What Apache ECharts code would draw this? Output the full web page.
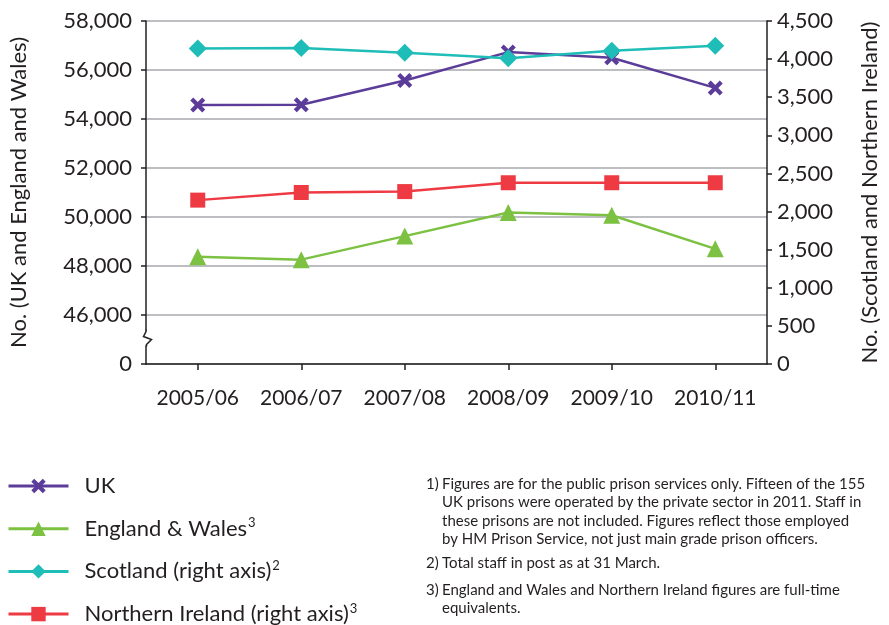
<!DOCTYPE html>
<html>
<head>
<meta charset="utf-8">
<script src="https://cdn.jsdelivr.net/npm/echarts@6/dist/echarts.min.js"></script>
<style>html,body{margin:0;padding:0;background:#fff;}#c{width:889px;height:625px;}</style>
</head>
<body>
<div id="c"></div>
<script>
const categories = ['2005/06','2006/07','2007/08','2008/09','2009/10','2010/11'];
const ukValues = [54570, 54580, 55570, 56730, 56500, 55270];
const ewValues = [48380, 48260, 49220, 50180, 50070, 48700];
const scotlandValues = [4140, 4145, 4085, 4010, 4110, 4175];
const niValues = [2150, 2250, 2262, 2378, 2378, 2378];
const leftTicks = {min: 44000, max: 58000, interval: 2000};
const rightTicks = {min: 0, max: 4500, interval: 500};
const seriesNames = ['UK', 'England & Wales', 'Scotland (right axis)', 'Northern Ireland (right axis)'];
const seriesSup = ['', '3', '2', '3'];
const footnotes = [
  ['1)', 'Figures are for the public prison services only. Fifteen of the 155\nUK prisons were operated by the private sector in 2011. Staff in\nthese prisons are not included. Figures reflect those employed\nby HM Prison Service, not just main grade prison officers.'],
  ['2)', 'Total staff in post as at 31 March.'],
  ['3)', 'England and Wales and Northern Ireland figures are full-time\nequivalents.']
];

const FONT = 'Lato, "Open Sans", sans-serif';
const INK = '#231f20';
const crossPath = 'path://M2,0 L5,3 L8,0 L10,2 L7,5 L10,8 L8,10 L5,7 L2,10 L0,8 L3,5 L0,2 Z';
const fmt = v => v.toLocaleString('en-US');

const chart = echarts.init(document.getElementById('c'), null, {renderer: 'canvas'});

const axisCommon = {
  axisLine: {show: true, lineStyle: {color: INK, width: 1.5}},
  axisTick: {show: true, length: 5, lineStyle: {color: INK, width: 1.5}},
  axisLabel: {color: INK, fontFamily: FONT, fontSize: 22},
  nameTextStyle: {color: INK, fontFamily: FONT, fontSize: 22},
};

const option = {
  animation: false,
  backgroundColor: '#fff',
  grid: {left: 146, right: 117, top: 21, bottom: 261, containLabel: false},
  legend: {
    orient: 'vertical', left: 7, top: 474, height: 200, padding: 0,
    itemWidth: 60, itemHeight: 18, itemGap: 18.7,
    lineStyle: {width: 3},
    data: seriesNames,
    formatter: name => {
      const i = seriesNames.indexOf(name);
      return seriesSup[i] ? name + '{sup|' + seriesSup[i] + '}' : name;
    },
    textStyle: {
      color: INK, fontFamily: FONT, fontSize: 22, lineHeight: 24, padding: [0,0,0,11],
      rich: {sup: {fontSize: 13, fontFamily: FONT, color: INK, verticalAlign: 'top', lineHeight: 16, padding: [0,0,0,1]}}
    }
  },
  xAxis: {
    type: 'category', data: categories, boundaryGap: true,
    axisLine: {show: true, lineStyle: {color: INK, width: 1.5}},
    axisTick: {show: true, alignWithLabel: true, length: 6, lineStyle: {color: INK, width: 1.5}},
    axisLabel: {color: INK, fontFamily: FONT, fontSize: 21, margin: 24, interval: 0, hideOverlap: false},
  },
  yAxis: [
    Object.assign({}, axisCommon, {
      type: 'value', position: 'left',
      min: leftTicks.min, max: leftTicks.max, interval: leftTicks.interval,
      name: 'No. (UK and England and Wales)', nameLocation: 'middle', nameGap: 116, nameRotate: 90,
      axisLabel: Object.assign({}, axisCommon.axisLabel, {margin: 14, formatter: v => v === leftTicks.min ? '0' : fmt(v)}),
      splitLine: {show: true, lineStyle: {color: '#a7a9ac', width: 1.5}}
    }),
    Object.assign({}, axisCommon, {
      type: 'value', position: 'right',
      min: rightTicks.min, max: rightTicks.max, interval: rightTicks.interval,
      name: 'No. (Scotland and Northern Ireland)', nameLocation: 'middle', nameGap: 92, nameRotate: 90,
      axisLabel: Object.assign({}, axisCommon.axisLabel, {margin: 10, formatter: v => fmt(v)}),
      splitLine: {show: false}
    })
  ],
  series: [
    {name: seriesNames[0], type: 'line', yAxisIndex: 0, data: ukValues, symbol: crossPath, symbolSize: 15,
      itemStyle: {color: '#5b3c99'}, lineStyle: {color: '#5b3c99', width: 2.5}},
    {name: seriesNames[1], type: 'line', yAxisIndex: 0, data: ewValues, symbol: 'triangle', symbolSize: 17,
      itemStyle: {color: '#7cc142'}, lineStyle: {color: '#7cc142', width: 2.5}},
    {name: seriesNames[2], type: 'line', yAxisIndex: 1, data: scotlandValues, symbol: 'diamond', symbolSize: 18,
      itemStyle: {color: '#1fbdb8'}, lineStyle: {color: '#1fbdb8', width: 2.5}},
    {name: seriesNames[3], type: 'line', yAxisIndex: 1, data: niValues, symbol: 'rect', symbolSize: 15,
      itemStyle: {color: '#ee3a43'}, lineStyle: {color: '#ee3a43', width: 2.5}}
  ]
};
chart.setOption(option);

// axis break mark and footnotes
const yb = chart.convertToPixel({yAxisIndex: 0}, 45000);
const ax = 146;
const graphics = [
  {type: 'rect', shape: {x: ax - 3, y: yb - 9, width: 12, height: 15}, style: {fill: '#fff'}, z: 100},
  {type: 'polyline', shape: {points: [[ax, yb - 10], [ax, yb - 8], [ax - 2.5, yb - 3], [ax + 5.5, yb], [ax + 0.5, yb + 5], [ax + 0.5, yb + 7]]},
    style: {stroke: INK, lineWidth: 1.5, fill: null}, z: 101}
];
const fnTops = [475, 554, 581];
footnotes.forEach((f, i) => {
  graphics.push({type: 'text', left: 426, top: fnTops[i], style: {text: f[0], font: '15px ' + FONT, fill: INK, lineHeight: 18.3}});
  graphics.push({type: 'text', left: 442, top: fnTops[i], style: {text: f[1], font: '15px ' + FONT, fill: INK, lineHeight: 18.3}});
});
chart.setOption({graphic: graphics});
</script>
</body>
</html>
